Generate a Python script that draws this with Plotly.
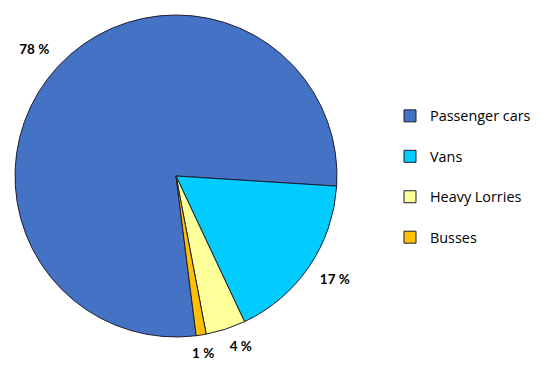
import math
import plotly.graph_objects as go

categories = ["Passenger cars", "Vans", "Heavy Lorries", "Busses"]
values = [78, 17, 4, 1]
value_labels = ["78 %", "17 %", "4 %", "1 %"]
colors = ["#4472C4", "#00CCFF", "#FFFF99", "#FFC000"]

W, H = 550, 366
ROTATION = 172.8
# pie geometry in pixels (centre and radius)
CX, CY, R = 176, 176, 161
dom_x = [(CX - R) / W, (CX + R) / W]
dom_y = [(H - CY - R) / H, (H - CY + R) / H]

fig = go.Figure()
fig.add_trace(go.Pie(
    labels=[c + "<br> " for c in categories],
    values=values,
    textinfo="none",
    sort=False,
    direction="clockwise",
    rotation=ROTATION,
    marker=dict(colors=colors, line=dict(color="#1c1c30", width=1)),
    domain=dict(x=dom_x, y=dom_y),
    hoverinfo="label+percent",
))

# value labels placed just outside each slice, at the slice's mid-angle
total = sum(values)
lx, ly, lpos = [], [], []
cum = 0
for v in values:
    mid_cw = ROTATION + (cum + v / 2) / total * 360
    theta = math.radians(90 - mid_cw)
    cx, cy = math.cos(theta), math.sin(theta)
    lx.append(1.08 * cx)
    ly.append(1.08 * cy)
    horiz = "center" if abs(cx) < 0.2 else ("right" if cx > 0 else "left")
    lpos.append(("top" if cy > 0 else "bottom") + " " + horiz)
    cum += v

fig.add_trace(go.Scatter(
    x=lx, y=ly, mode="text", text=value_labels, textposition=lpos,
    textfont=dict(family="Lato", size=13.5, color="#000000", weight="bold"),
    showlegend=False, hoverinfo="skip", cliponaxis=False,
))

AX_W = 400  # pixel width of the label axes, starting at the left edge
fig.update_layout(
    width=W, height=H,
    margin=dict(l=0, r=0, t=0, b=0),
    paper_bgcolor="white",
    plot_bgcolor="rgba(0,0,0,0)",
    xaxis=dict(domain=[0, AX_W / W], range=[-CX / R, (AX_W - CX) / R],
               visible=False, fixedrange=True),
    yaxis=dict(domain=[0, 1], range=[-(H - CY) / R, CY / R],
               visible=False, fixedrange=True),
    showlegend=True,
    legend=dict(
        x=390 / W, y=1 - 100 / H, xanchor="left", yanchor="top",
        font=dict(family="Open Sans", size=14.4, color="#000000"),
        valign="top",
        itemwidth=30,
    ),
)

fig.write_html("out.html", config={"displayModeBar": False},
               post_script="document.body.style.margin='0';")
